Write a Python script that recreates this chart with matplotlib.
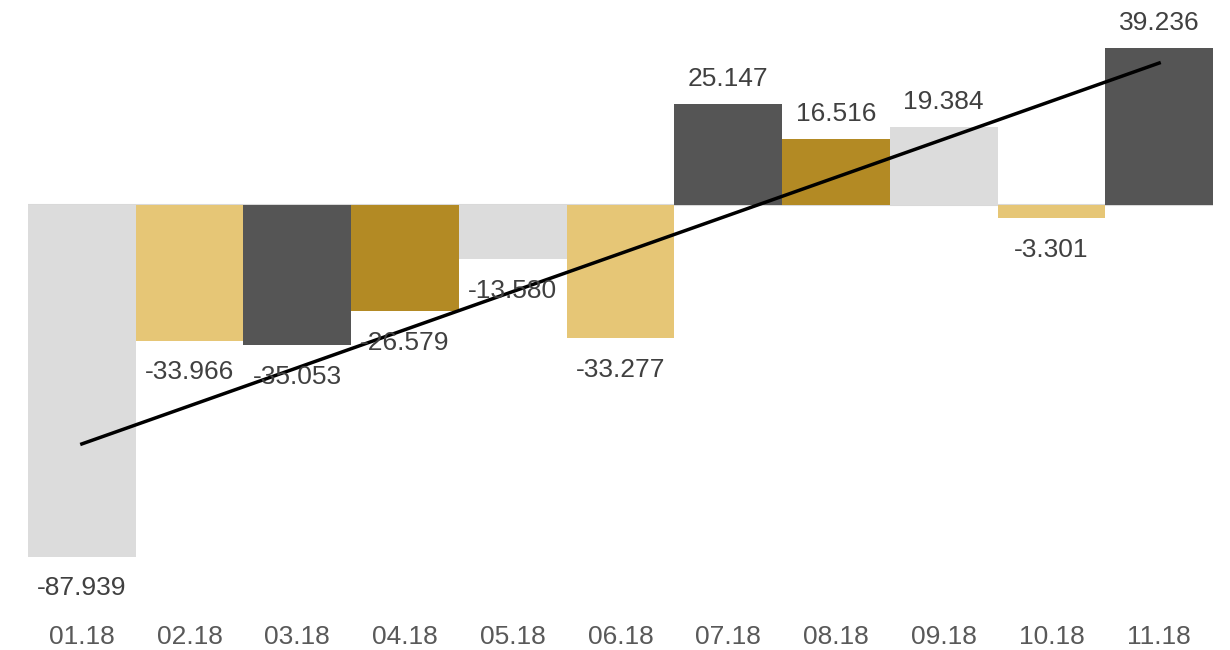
import numpy as np
import matplotlib
matplotlib.use('Agg')
import matplotlib.pyplot as plt

plt.rcParams['font.family'] = ['Liberation Sans', 'DejaVu Sans']

months = ['01.18', '02.18', '03.18', '04.18', '05.18', '06.18',
          '07.18', '08.18', '09.18', '10.18', '11.18']
values = [-87.939, -33.966, -35.053, -26.579, -13.580, -33.277,
          25.147, 16.516, 19.384, -3.301, 39.236]
palette = ['#dcdcdc', '#e6c676', '#555555', '#b38a24']

x = np.arange(len(months))
colors = [palette[i % 4] for i in range(len(months))]

fig = plt.figure(figsize=(12.3, 6.5), dpi=100)
ax = fig.add_axes([28 / 1230, 40 / 650, 1185 / 1230, 610 / 650])

ax.bar(x, values, width=1.0, color=colors, zorder=2)
ax.axhline(0, color='#d9d9d9', linewidth=1.5, zorder=1)

# linear trend line
k, b = np.polyfit(x, values, 1)
ax.plot(x, k * x + b, color='black', linewidth=2.5, zorder=3)

for xi, v in zip(x, values):
    if v >= 0:
        ax.annotate(f'{v:.3f}', (xi, v), xytext=(0, 9.5), textcoords='offset points',
                    ha='center', va='bottom', fontsize=19, color='#404040')
    else:
        ax.annotate(f'{v:.3f}', (xi, v), xytext=(0, -14), textcoords='offset points',
                    ha='center', va='top', fontsize=19, color='#404040')

ax.set_xlim(-0.5, len(months) - 0.5)
ax.set_ylim(-101.2, 51.2)
ax.set_xticks(x)
ax.set_xticklabels(months, fontsize=19, color='#595959')
ax.tick_params(axis='x', length=0, pad=11)
ax.set_yticks([])
for s in ax.spines.values():
    s.set_visible(False)

plt.savefig('out.png', dpi=100)
